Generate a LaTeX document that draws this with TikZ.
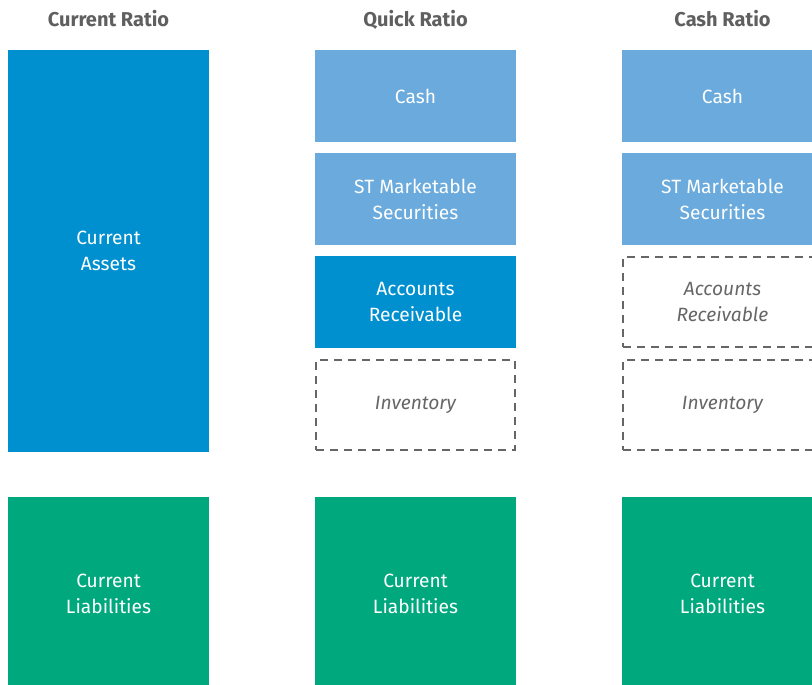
\documentclass[tikz,border=0pt]{standalone}
\usepackage{fontspec}
\setmainfont{Fira Sans}
\definecolor{assetblue}{HTML}{0090D0}
\definecolor{cashblue}{HTML}{6AAADC}
\definecolor{liabgreen}{HTML}{00A87E}
\definecolor{headgray}{HTML}{5F5F5F}
\definecolor{dashgray}{HTML}{666666}

\begin{document}
\begin{tikzpicture}[x=1pt,y=-1pt,
    box/.style={minimum width=201pt, minimum height=92pt, inner sep=0pt,
                align=center, text=white, font=\fontsize{19.2}{26}\selectfont},
    bluebox/.style={box, fill=cashblue},
    darkbox/.style={box, fill=assetblue},
    liabbox/.style={box, fill=liabgreen, minimum height=194pt},
    emptybox/.style={box, draw=dashgray, line width=2pt, dash pattern=on 8pt off 6pt,
                text=dashgray, font=\fontsize{19.2}{26}\selectfont\itshape,
                minimum width=199pt, minimum height=90pt},
    head/.style={anchor=base, text=headgray, font=\fontsize{20}{22}\selectfont\bfseries}]
    \useasboundingbox (0,0) rectangle (812,685);
    \clip (0,0) rectangle (812,685);

    % headings
    \node[head] (hcur) at (108.5,27) {Current Ratio};
    \node[head] (hquick) at (415.5,27) {Quick Ratio};
    \node[head] (hcash) at (722.5,27) {Cash Ratio};

    % current ratio
    \node[darkbox, minimum height=402pt] (curassets) at (108.5,251) {Current\\Assets};
    \node[liabbox] (curliab) at (108.5,594) {Current\\Liabilities};

    % quick ratio
    \node[bluebox] (qcash) at (415.5,96) {Cash};
    \node[bluebox] (qsec) at (415.5,199) {ST Marketable\\Securities};
    \node[darkbox] (qrec) at (415.5,302) {Accounts\\Receivable};
    \node[emptybox] (qinv) at (415.5,405) {Inventory};
    \node[liabbox] (qliab) at (415.5,594) {Current\\Liabilities};

    % cash ratio
    \node[bluebox] (ccash) at (722.5,96) {Cash};
    \node[bluebox] (csec) at (722.5,199) {ST Marketable\\Securities};
    \node[emptybox] (crec) at (722.5,302) {Accounts\\Receivable};
    \node[emptybox] (cinv) at (722.5,405) {Inventory};
    \node[liabbox] (cliab) at (722.5,594) {Current\\Liabilities};
\end{tikzpicture}
\end{document}
